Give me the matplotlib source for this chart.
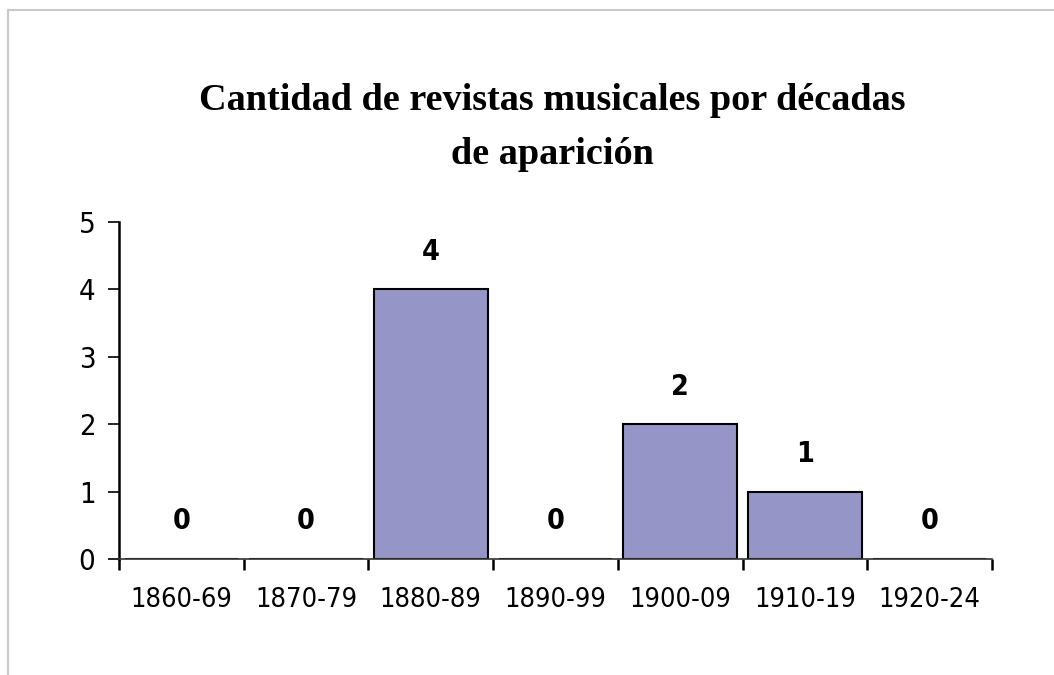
import matplotlib
matplotlib.use("Agg")
import matplotlib.pyplot as plt
from matplotlib.lines import Line2D
from matplotlib.ticker import FixedLocator, NullFormatter

# data
decadas = ["1860-69", "1870-79", "1880-89", "1890-99", "1900-09", "1910-19", "1920-24"]
revistas = [0, 0, 4, 0, 2, 1, 0]

sans = ["DejaVu Sans"]
serif = ["Liberation Serif", "DejaVu Serif"]

fig = plt.figure(figsize=(10.54, 6.75), dpi=100)
ax = fig.add_axes([0.1129, 0.1719, 0.8283, 0.4992])

x = list(range(len(decadas)))
ax.bar(x, revistas, width=0.91, color="#9595c8", edgecolor="black", linewidth=1.5)

for xi, v in zip(x, revistas):
    ax.annotate(str(v), (xi, v), xytext=(0, 17), textcoords="offset points",
                ha="center", va="bottom", fontsize=20.5, fontweight="bold",
                family=sans, fontstretch="condensed")

ax.set_xlim(-0.5, len(decadas) - 0.5)
ax.set_ylim(0, 5)

# ticks at category boundaries, labels at centres
ax.xaxis.set_major_locator(FixedLocator([i - 0.5 for i in range(len(decadas) + 1)]))
ax.xaxis.set_major_formatter(NullFormatter())
ax.xaxis.set_minor_locator(FixedLocator(x))
ax.set_xticklabels(decadas, minor=True, family=sans, fontsize=19.5, fontstretch="condensed")
ax.tick_params(axis="x", which="major", direction="out", length=8, width=1.8, color="black")
ax.tick_params(axis="x", which="minor", length=0, pad=20)

ax.set_yticks(range(6))
ax.set_yticklabels([str(i) for i in range(6)], family=sans, fontsize=21, fontstretch="condensed")
ax.tick_params(axis="y", direction="out", length=8, width=1.2, pad=9)

for s in ["top", "right"]:
    ax.spines[s].set_visible(False)
ax.spines["left"].set_linewidth(1.8)
ax.spines["bottom"].set_linewidth(1.2)
ax.spines["bottom"].set_color("#333333")

fig.text(0.524, 0.811, "Cantidad de revistas musicales por décadas\nde aparición",
         ha="center", va="center", fontsize=27.5, fontweight="bold",
         family=serif, linespacing=1.7)

# light gray frame
W, H = 1054, 675
fig.add_artist(Line2D([8 / W, 1], [1 - 10 / H, 1 - 10 / H], color="#c8c8c8", lw=1.5,
                      transform=fig.transFigure))
fig.add_artist(Line2D([8 / W, 8 / W], [0, 1 - 10 / H], color="#c8c8c8", lw=1.5,
                      transform=fig.transFigure))

fig.savefig("out.png", dpi=100)
